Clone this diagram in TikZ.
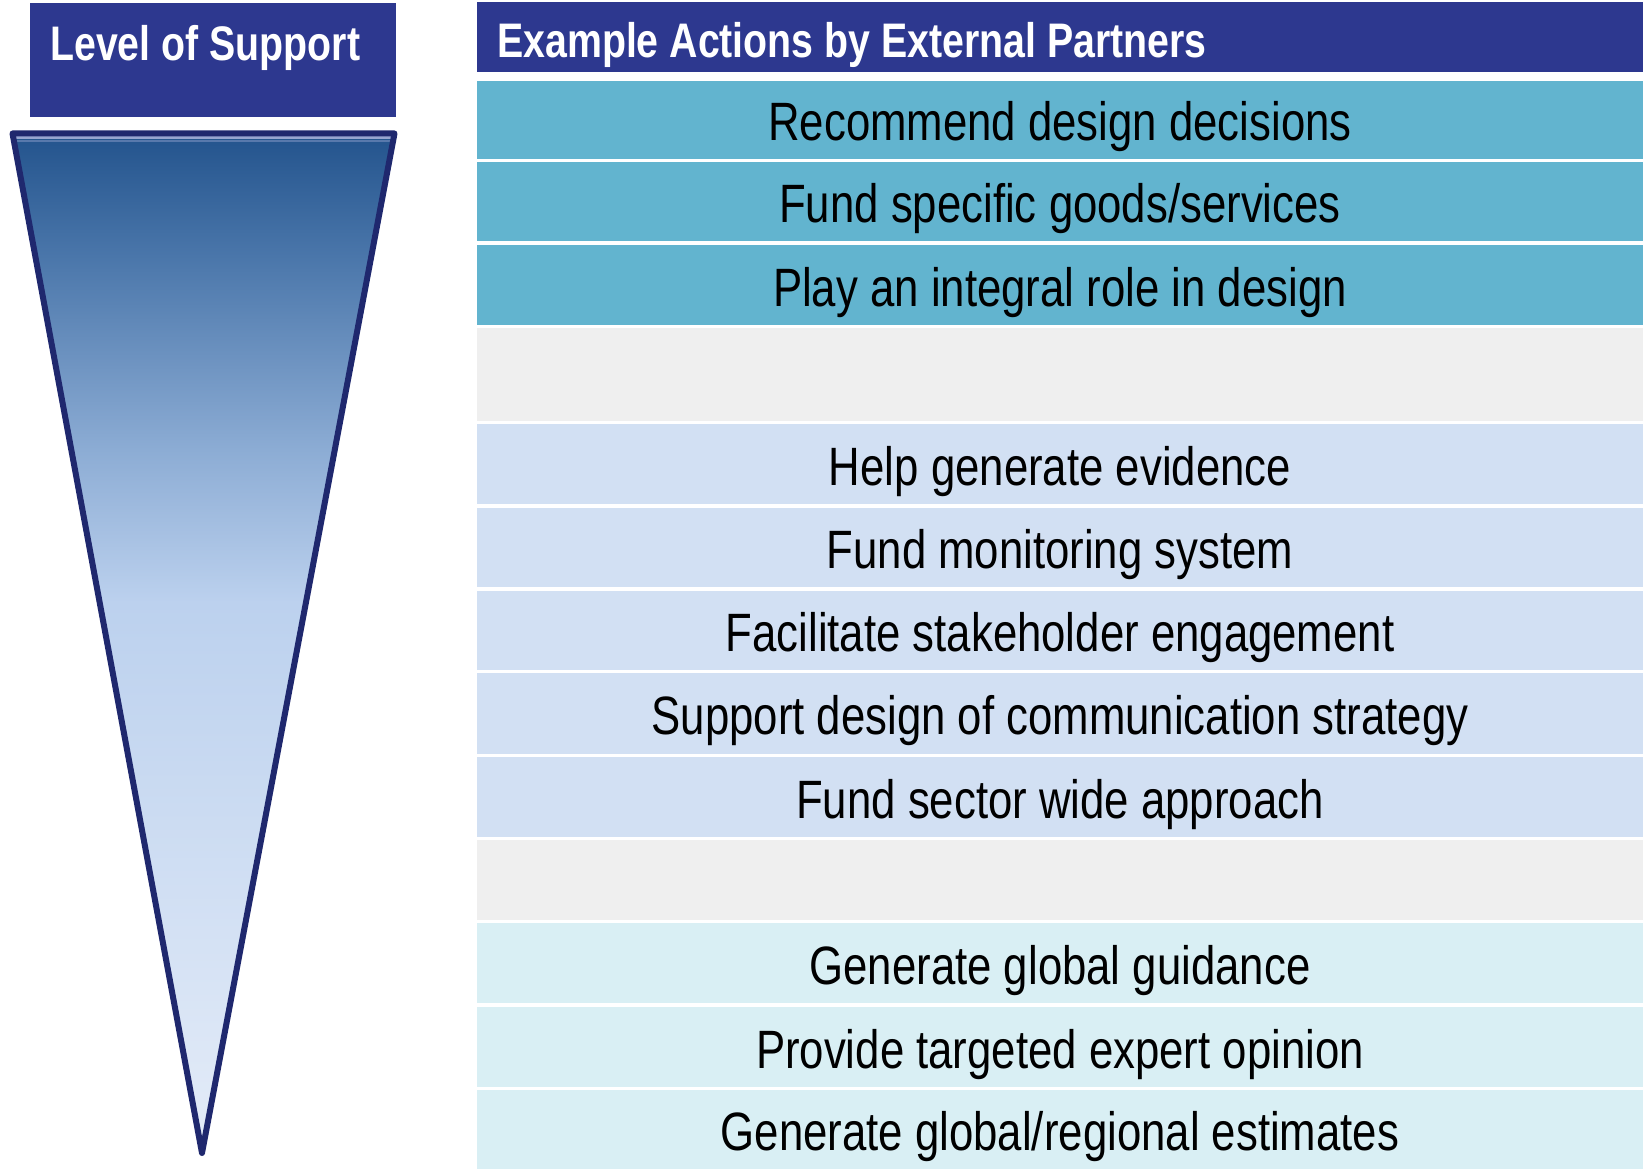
\documentclass[tikz,border=0pt]{standalone}
\usepackage{fontspec}
\setmainfont{Liberation Sans}[FakeStretch=0.81]
\definecolor{hdrblue}{RGB}{45,56,143}
\definecolor{teal}{RGB}{98,180,207}
\definecolor{lblue}{RGB}{210,224,243}
\definecolor{lgray}{RGB}{239,239,239}
\definecolor{lcyan}{RGB}{217,239,244}
\definecolor{triborder}{RGB}{31,40,110}
\definecolor{tbot}{RGB}{228,236,248}
\definecolor{tthree}{RGB}{188,209,238}
\definecolor{ttwo}{RGB}{140,172,212}
\definecolor{tone}{RGB}{74,118,170}
\definecolor{ttop}{RGB}{38,86,143}
\definecolor{thigh}{RGB}{150,165,208}
\pgfdeclareverticalshading{trishade}{100bp}{color(0bp)=(tbot); color(25bp)=(tbot); color(52bp)=(tthree); color(59.5bp)=(ttwo); color(69bp)=(tone); color(74.5bp)=(ttop); color(100bp)=(ttop)}
\begin{document}
\begin{tikzpicture}[x=1pt,y=-1pt,
  rowbox/.style={rectangle, inner sep=0pt, minimum width=1166pt, text height=42pt, text depth=0pt, font=\fontsize{54}{60}\selectfont, text=black},
  hdrbox/.style={rectangle, inner sep=0pt, fill=hdrblue},
  hdrtext/.style={inner sep=0pt, anchor=base west, text=white, font=\fontsize{48.5}{56}\selectfont\bfseries}
]
\useasboundingbox (0,0) rectangle (1643,1169);
% left header
\node[hdrbox, minimum width=366pt, minimum height=114pt] (lvl) at (213,60) {};
\node[hdrtext] (lvltext) at (50,61) {Level of Support};
% triangle
\coordinate (tl) at (12.5,133.5);
\coordinate (tr) at (394.5,133.5);
\coordinate (apex) at (202,1153);
\shade[shading=trishade] (tl) -- (tr) -- (apex) -- cycle;
\begin{scope}
\clip (tl) -- (tr) -- (apex) -- cycle;
\draw[thigh, line width=3pt] (0,138) -- (400,138);
\draw[thigh, opacity=0.45, line width=2.5pt] (0,141) -- (400,141);
\end{scope}
\draw[triborder, line width=6pt, line join=round] (tl) -- (tr) -- (apex) -- cycle;
% right header
\node[hdrbox, minimum width=1166pt, minimum height=70pt] (hdr) at (1060,37.5) {};
\node[hdrtext] (hdrtxt) at (497,57.5) {Example Actions by External Partners};
% rows
\node[rowbox, fill=teal, minimum height=78pt] (r1) at (1060,120) {Recommend design decisions};
\node[rowbox, fill=teal, minimum height=79pt] (r2) at (1060,201.5) {Fund specific goods/services};
\node[rowbox, fill=teal, minimum height=80pt] (r3) at (1060,285) {Play an integral role in design};
\node[rowbox, fill=lgray, minimum height=93pt] (g1) at (1060,374.5) {};
\node[rowbox, fill=lblue, minimum height=80pt] (r4) at (1060,464) {Help generate evidence};
\node[rowbox, fill=lblue, minimum height=79pt] (r5) at (1060,547.5) {Fund monitoring system};
\node[rowbox, fill=lblue, minimum height=79pt] (r6) at (1060,630.5) {Facilitate stakeholder engagement};
\node[rowbox, fill=lblue, minimum height=81pt] (r7) at (1060,713.5) {Support design of communication strategy};
\node[rowbox, fill=lblue, minimum height=80pt] (r8) at (1060,797) {Fund sector wide approach};
\node[rowbox, fill=lgray, minimum height=80pt] (g2) at (1060,880) {};
\node[rowbox, fill=lcyan, minimum height=80pt] (r9) at (1060,963) {Generate global guidance};
\node[rowbox, fill=lcyan, minimum height=80pt] (r10) at (1060,1047) {Provide targeted expert opinion};
\node[rowbox, fill=lcyan, minimum height=79pt] (r11) at (1060,1129.5) {Generate global/regional estimates};
\end{tikzpicture}
\end{document}
